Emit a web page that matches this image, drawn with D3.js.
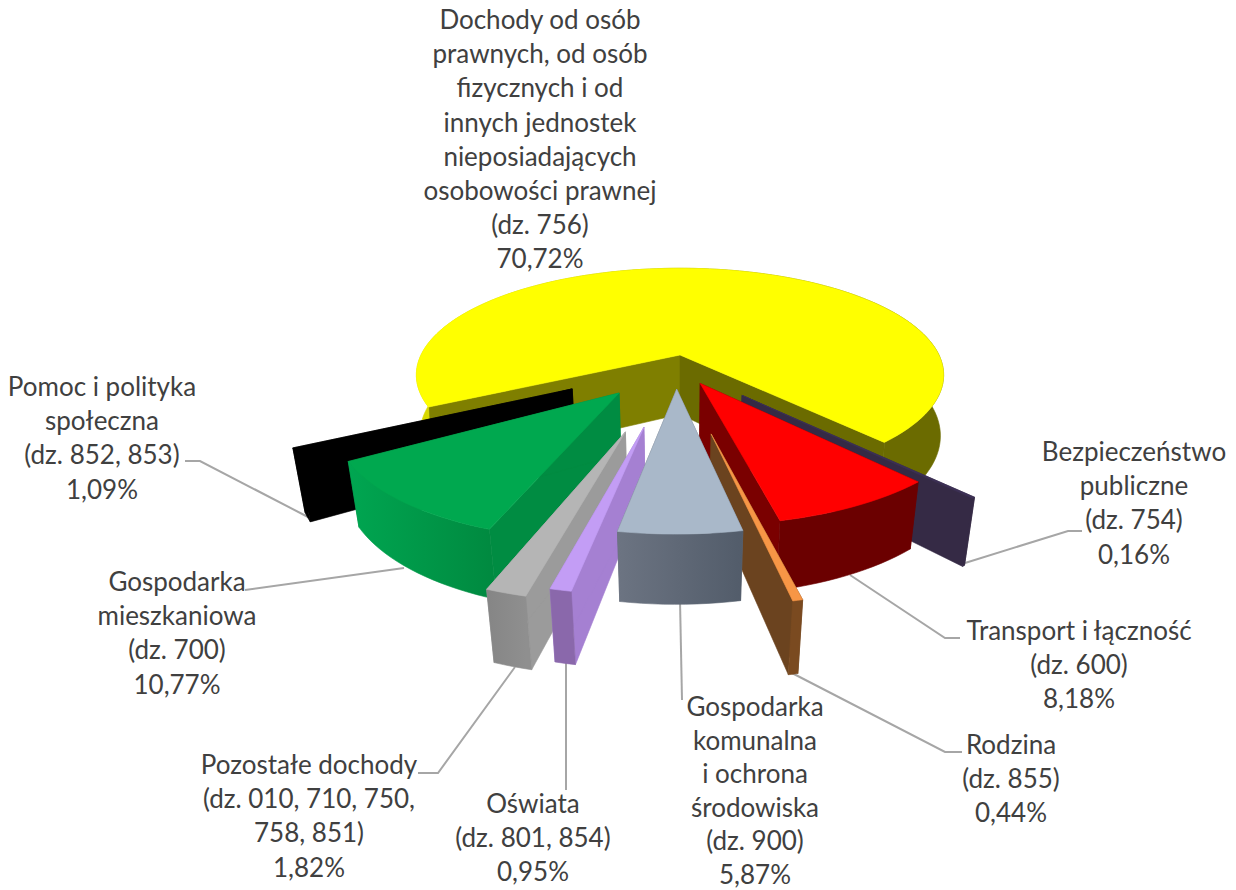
<!DOCTYPE html>
<html>
<head>
<meta charset="utf-8">
<script src="https://cdn.jsdelivr.net/npm/d3@7"></script>
<style>
    body { margin: 0; background: #fff; }
    text { font-family: Lato, "Open Sans", sans-serif; font-size: 26px; fill: #404040; }
</style>
</head>
<body>
<div id="pie3d"></div>
<script>
// data
var names = ["Dochody", "Bezpieczenstwo", "Transport", "Rodzina", "Komunalna", "Oswiata", "Pozostale", "Mieszkaniowa", "Pomoc"];
var values = [70.72, 0.16, 8.18, 0.44, 5.87, 0.95, 1.82, 10.77, 1.09];
var labels = [
    ["Dochody od osób", "prawnych, od osób", "fizycznych i od", "innych jednostek", "nieposiadających", "osobowości prawnej", "(dz. 756)", "70,72%"],
    ["Bezpieczeństwo", "publiczne", "(dz. 754)", "0,16%"],
    ["Transport i łączność", "(dz. 600)", "8,18%"],
    ["Rodzina", "(dz. 855)", "0,44%"],
    ["Gospodarka", "komunalna", "i ochrona", "środowiska", "(dz. 900)", "5,87%"],
    ["Oświata", "(dz. 801, 854)", "0,95%"],
    ["Pozostałe dochody", "(dz. 010, 710, 750,", "758, 851)", "1,82%"],
    ["Gospodarka", "mieszkaniowa", "(dz. 700)", "10,77%"],
    ["Pomoc i polityka", "społeczna", "(dz. 852, 853)", "1,09%"]
];

// layout: how far each slice is pulled out of the pie (in radii)
var explodeX = [0, 0.223, 0.074, 0.105, -0.012, -0.123, -0.185, -0.22, -0.392];
var explodeY = [0, 0.365, 0.262, 0.67, 0.312, 0.62, 0.655, 0.345, 0.31];
// how much the walls narrow towards the bottom face
var narrowing = [0.012, 0.028, 0.028, 0.028, 0.028, 0.028, 0.028, 0.028, 0.028];
var labelX = [540, 1134, 1079, 1011, 755, 533, 309, 177, 102];
var labelY = [29, 461, 640, 754, 716, 813, 774, 591, 396];
var labelStep = [34.2, 34.2, 34.2, 34.2, 33.6, 34.2, 34.2, 34.2, 34.2];
var leaders = [
    null,
    [[965, 563], [1068, 531], [1082, 531]],
    [[850, 575], [945, 638], [960, 638]],
    [[790, 672], [945, 752], [962, 752]],
    [[680, 600], [682, 700]],
    [[566, 660], [566, 790]],
    [[515, 667], [438, 773], [418, 773]],
    [[404, 568], [245, 590]],
    [[308, 517], [200, 461], [185, 461]]
];

// styles
var topColor = ["#ffff00", "#3d3055", "#ff0000", "#f79646", "#a9b8c9", "#c39df5", "#b5b5b5", "#00a84f", "#000000"];
var sideStart = ["#7f7f00", "#352a45", "#6b0000", "#6b431f", "#5f6876", "#a580d2", "#9b9b9b", "#008c42", "#000000"];
var sideEnd = ["#6b6b00", "#352a45", "#7a0000", "#6b431f", "#5f6876", "#a580d2", "#9b9b9b", "#008c42", "#000000"];
var outerStart = ["#d8d800", "#352a45", "#6b0000", "#7a4a20", "#525c6a", "#8a68ab", "#8f8f8f", "#008a40", "#000000"];
var outerEnd = ["#6b6b00", "#352a45", "#6b0000", "#7a4a20", "#6c7482", "#8a68ab", "#858585", "#00a651", "#000000"];
var drawOrder = [0, 1, 8, 2, 7, 6, 5, 3, 4];

var width = 1236, height = 890;
var cx = 680, cy = 355;
var firstAngle = 242.5 * Math.PI / 180;

var svg = d3.select("#pie3d")
    .append("svg")
    .attr("width", width)
    .attr("height", height);

var defs = svg.append("defs");

var slices = d3.pie()
    .sort(null)
    .startAngle(firstAngle)
    .endAngle(firstAngle + 2 * Math.PI)(values);

// perspective of the tilted pie. z = 0 is the top face, z = 1 the bottom
function project(i, u, v, z) {
    var w = 1 - 0.187 * v + narrowing[i] * z;
    return [cx + 259 * u / w, cy + (103 * v + 60 * z) / w];
}

function rim(i, angle, z) {
    return project(i, explodeX[i] + Math.sin(angle), explodeY[i] - Math.cos(angle), z);
}

function apex(i, z) {
    return project(i, explodeX[i], explodeY[i], z);
}

var line = d3.line();

function face(points, color) {
    svg.append("path")
        .attr("d", line(points) + "Z")
        .attr("fill", color)
        .attr("stroke", color)
        .attr("stroke-width", 0.6)
        .attr("stroke-linejoin", "round");
}

// leader lines go under the slices
leaders.forEach(function(points) {
    if (!points) return;
    svg.append("path")
        .attr("d", line(points))
        .attr("fill", "none")
        .attr("stroke", "#a6a6a6")
        .attr("stroke-width", 2);
});

drawOrder.forEach(function(i) {
    var a0 = slices[i].startAngle, a1 = slices[i].endAngle;
    var steps = Math.max(2, Math.ceil((a1 - a0) / (Math.PI / 90)));
    var angles = d3.range(steps + 1).map(function(k) { return a0 + (a1 - a0) * k / steps; });

    // the two cut walls
    face([apex(i, 0), rim(i, a0, 0), rim(i, a0, 1), apex(i, 1)], sideStart[i]);
    face([apex(i, 0), rim(i, a1, 0), rim(i, a1, 1), apex(i, 1)], sideEnd[i]);

    // outer wall, one shape with a gradient along the rim
    var grad = defs.append("linearGradient")
        .attr("id", "outer" + i)
        .attr("gradientUnits", "userSpaceOnUse")
        .attr("x1", rim(i, a0, 0)[0])
        .attr("x2", rim(i, a1, 0)[0])
        .attr("y1", 0)
        .attr("y2", 0);
    grad.append("stop").attr("offset", 0).attr("stop-color", outerStart[i]);
    grad.append("stop").attr("offset", 1).attr("stop-color", outerEnd[i]);
    var upper = angles.map(function(a) { return rim(i, a, 0); });
    var lower = angles.map(function(a) { return rim(i, a, 1); }).reverse();
    face(upper.concat(lower), "url(#outer" + i + ")");

    // top face
    face([apex(i, 0)].concat(upper), topColor[i]);
});

labels.forEach(function(lines, i) {
    var t = svg.append("text")
        .attr("text-anchor", "middle");
    lines.forEach(function(s, k) {
        t.append("tspan")
            .attr("x", labelX[i])
            .attr("y", labelY[i] + k * labelStep[i])
            .text(s);
    });
});
</script>
</body>
</html>
